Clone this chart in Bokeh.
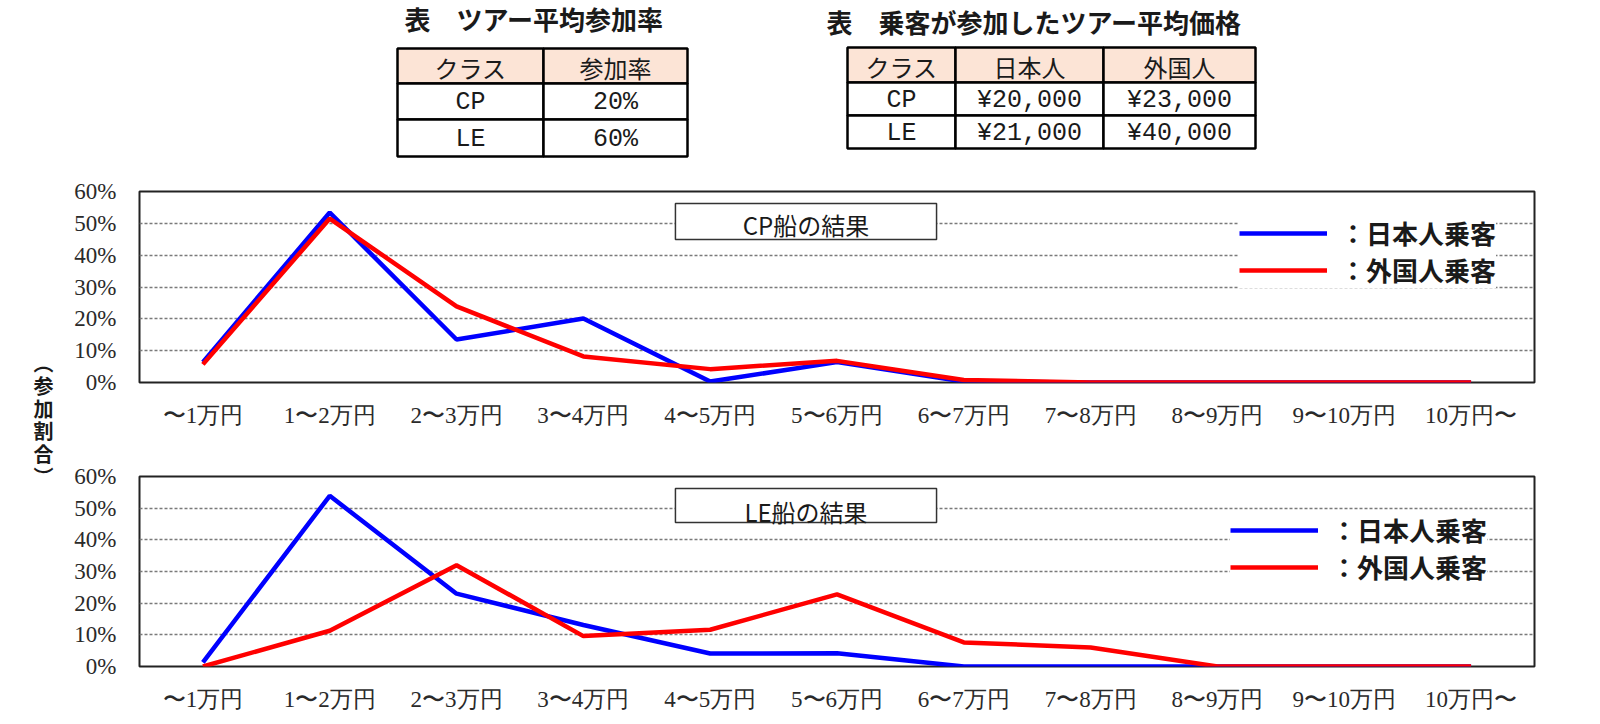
from bokeh.plotting import figure
from bokeh.layouts import column, row
from bokeh.models import (FactorRange, Range1d, FixedTicker, PrintfTickFormatter,
                          Legend, LegendItem)
from bokeh.core.properties import value
from bokeh.embed import file_html
from bokeh.resources import INLINE

# ---- data -------------------------------------------------------------
price_bands = ["〜1万円", "1〜2万円", "2〜3万円", "3〜4万円", "4〜5万円", "5〜6万円",
               "6〜7万円", "7〜8万円", "8〜9万円", "9〜10万円", "10万円〜"]

# share of passengers per price band (%)
cp_japanese = [6.4, 53.4, 13.5, 20.1, 0.3, 6.4, 0.3, 0.0, 0.0, 0.0, 0.0]
cp_foreign = [5.7, 51.5, 23.9, 8.2, 4.2, 6.8, 0.8, 0.0, 0.0, 0.0, 0.0]
le_japanese = [1.3, 53.9, 23.0, 13.1, 4.1, 4.2, 0.0, 0.0, 0.0, 0.0, 0.0]
le_foreign = [0.0, 11.3, 32.0, 9.6, 11.6, 22.8, 7.6, 6.0, 0.0, 0.0, 0.0]

y_ticks = [0, 10, 20, 30, 40, 50, 60]

# tour participation table
rate_title = "表　ツアー平均参加率"
rate_header = ["クラス", "参加率"]
rate_classes = ["CP", "LE"]
rate_values = ["20%", "60%"]

# average tour price table
price_title = "表　乗客が参加したツアー平均価格"
price_header = ["クラス", "日本人", "外国人"]
price_classes = ["CP", "LE"]
price_japanese = ["¥20,000", "¥21,000"]
price_foreign = ["¥23,000", "¥40,000"]

legend_labels = ["：日本人乗客", "：外国人乗客"]
axis_title_chars = ["︵", "参", "加", "割", "合", "︶"]

BLUE = "#0000FF"
RED = "#FF0000"
PEACH = "#FCE4D6"
INK = "#1a1a1a"
JP = "Noto Sans CJK JP"
SERIF = "Liberation Serif"
MONO = "Liberation Mono"


def blank(width, height, xr, yr):
    p = figure(width=width, height=height, x_range=xr, y_range=yr,
               output_backend="svg", toolbar_location=None, min_border=0)
    p.axis.visible = False
    p.grid.visible = False
    p.outline_line_color = None
    return p


# ---- tables strip -------------------------------------------------------
tables = blank(1600, 170, Range1d(0, 1600), Range1d(170, 0))


def draw_table(p, col_edges, row_edges, header, body_cols, title, title_x, title_y):
    n_cols = len(col_edges) - 1
    n_rows = len(row_edges) - 1
    lefts, rights, tops, bottoms, fills = [], [], [], [], []
    hx, hy, ht = [], [], []
    bx, by, bt = [], [], []
    for r in range(n_rows):
        for c in range(n_cols):
            lefts.append(col_edges[c]); rights.append(col_edges[c + 1])
            tops.append(row_edges[r]); bottoms.append(row_edges[r + 1])
            fills.append(PEACH if r == 0 else "white")
            cx = (col_edges[c] + col_edges[c + 1]) / 2
            cy = (row_edges[r] + row_edges[r + 1]) / 2 + 1
            if r == 0:
                hx.append(cx); hy.append(cy); ht.append(header[c])
            else:
                bx.append(cx); by.append(cy); bt.append(body_cols[c][r - 1])
    p.quad(left=lefts, right=rights, top=tops, bottom=bottoms, fill_color=fills,
           line_color="black", line_width=2.5)
    p.text(x=hx, y=hy, text=ht, text_font=value(JP), text_font_size="24px",
           text_color=INK, text_align="center", text_baseline="middle")
    p.text(x=bx, y=by, text=bt, text_font=value(MONO), text_font_size="25px",
           text_color=INK, text_align="center", text_baseline="middle")
    p.text(x=[title_x], y=[title_y], text=[title], text_font=value(JP),
           text_font_size="26px", text_font_style="bold", text_color=INK,
           text_align="left", text_baseline="middle")


draw_table(tables, [397, 543, 687], [48, 83, 119, 156], rate_header,
           [rate_classes, rate_values], rate_title, 404, 18)
draw_table(tables, [847, 955, 1103, 1255], [47, 82, 115, 148], price_header,
           [price_classes, price_japanese, price_foreign], price_title, 826, 21)

# ---- shared vertical axis title ---------------------------------------
side = blank(70, 554, Range1d(0, 70), Range1d(724, 170))
side.text(x=[43], y=[419], text=["\n".join(axis_title_chars)], text_font=value(JP),
          text_font_size="20px", text_font_style="bold", text_color=INK,
          text_align="center", text_baseline="middle", text_line_height=0.79)


# ---- line charts --------------------------------------------------------
def make_chart(title, jp_vals, fg_vals, height, border_top, border_bottom,
               box, text_y, legend_loc, legend_pad):
    p = figure(x_range=FactorRange(factors=price_bands), y_range=Range1d(0, 60),
               width=1530, height=height, min_border_left=69, min_border_right=66,
               min_border_top=border_top, min_border_bottom=border_bottom,
               output_backend="svg", toolbar_location=None)
    p.outline_line_color = "#222222"
    p.outline_line_width = 2

    p.xgrid.visible = False
    p.ygrid.ticker = FixedTicker(ticks=y_ticks)
    p.ygrid.grid_line_color = "#7a7a7a"
    p.ygrid.grid_line_width = 1.5
    p.ygrid.grid_line_dash = "3 2"

    p.yaxis.ticker = FixedTicker(ticks=y_ticks)
    p.yaxis.formatter = PrintfTickFormatter(format="%d%%")
    for ax in (p.xaxis, p.yaxis):
        ax.axis_line_color = None
        ax.major_tick_line_color = None
        ax.minor_tick_line_color = None
        ax.major_label_text_color = "#2a2a2a"
        ax.major_label_text_font = SERIF
    p.yaxis.major_label_text_font_size = "23px"
    p.yaxis.major_label_standoff = 17
    p.xaxis.major_label_text_font_size = "23px"
    p.xaxis.major_label_standoff = 14

    # chart caption box
    left, right, top, bottom = box
    p.quad(left=[left], right=[right], top=[top], bottom=[bottom],
           fill_color="white", line_color="#333333", line_width=1.5)
    p.text(x=[(left + right) / 2], y=[text_y], text=[title], text_font=value(JP),
           text_font_size="24px", text_color=INK, text_align="center",
           text_baseline="middle")

    r_jp = p.line(x=price_bands, y=jp_vals, line_color=BLUE, line_width=4.5)
    r_fg = p.line(x=price_bands, y=fg_vals, line_color=RED, line_width=4.5)

    legend = Legend(items=[LegendItem(label=legend_labels[0], renderers=[r_jp]),
                           LegendItem(label=legend_labels[1], renderers=[r_fg])],
                    location=legend_loc, padding=legend_pad, margin=0,
                    glyph_width=88, glyph_height=22, label_height=22,
                    label_standoff=13, spacing=-7,
                    border_line_color=None, background_fill_color="white",
                    background_fill_alpha=1.0,
                    label_text_font=JP, label_text_font_size="26px",
                    label_text_font_style="bold", label_text_color=INK)
    p.add_layout(legend)
    return p


cp_chart = make_chart("CP船の結果", cp_japanese, cp_foreign, 280, 21, 68,
                      (4.226, 6.285, 56.23, 44.92), 49.6, (1100, 94), 20)
le_chart = make_chart("LE船の結果", le_japanese, le_foreign, 274, 26, 58,
                      (4.226, 6.285, 56.21, 45.47), 49.0, (1091, 81), 8)

layout = column(tables, row(side, column(cp_chart, le_chart)))

open("out.html", "w").write(file_html(layout, INLINE))
